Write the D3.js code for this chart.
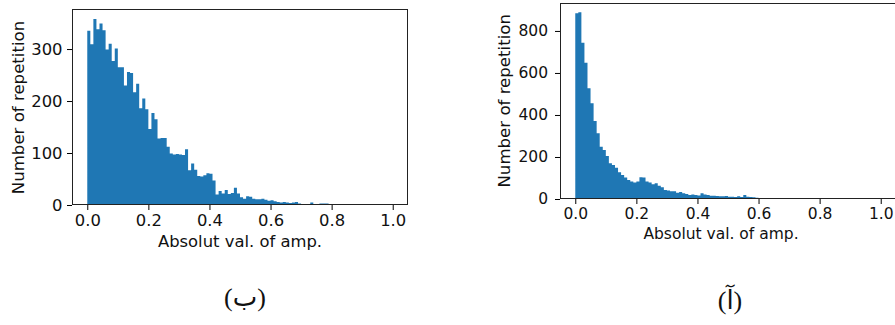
<!DOCTYPE html>
<html>
<head>
<meta charset="utf-8">
<script src="https://cdn.jsdelivr.net/npm/d3@7"></script>
<style>
  body { margin: 0; background: #fff; }
  svg { display: block; }
  .tick text { fill: #111; }
</style>
</head>
<body>
<div id="container"></div>
<script>
// histogram counts, 100 bins of width 0.01 from 0.0 to 1.0
const binWidth = 0.01;

// panel (ب) - left
const countsB = [
  335, 309, 358, 338, 349, 336, 299, 310, 277, 301,
  265, 265, 230, 256, 254, 217, 233, 186, 205, 184,
  146, 177, 165, 128, 129, 129, 112, 99, 97, 98,
  97, 96, 107, 67, 80, 68, 56, 55, 57, 61,
  60, 47, 20, 27, 22, 29, 21, 23, 33, 22,
  15, 12, 17, 16, 12, 11, 11, 12, 10, 8,
  9, 7, 6, 5, 6, 5, 4, 5, 6, 3,
  2, 2, 1, 5, 2, 1, 3, 3, 3, 2,
  1, 0, 0, 1, 0, 0, 1, 0, 1, 0,
  0, 1, 0, 0, 0, 1, 0, 0, 0, 1
];

// panel (آ) - right
const countsA = [
  884, 889, 744, 649, 527, 456, 371, 313, 249, 233,
  205, 170, 162, 149, 127, 114, 102, 90, 83, 79,
  83, 103, 102, 83, 78, 70, 75, 63, 56, 43,
  40, 37, 37, 30, 33, 27, 24, 19, 22, 19,
  17, 27, 22, 19, 16, 16, 14, 13, 13, 14,
  11, 11, 10, 13, 10, 19, 11, 9, 8, 6,
  5, 4, 4, 5, 3, 4, 3, 3, 4, 4,
  3, 2, 4, 3, 2, 3, 4, 2, 3, 3,
  2, 1, 2, 2, 1, 1, 3, 0, 0, 0,
  0, 0, 0, 0, 0, 0, 0, 0, 0, 0
];

const xTicks = [0, 0.2, 0.4, 0.6, 0.8, 1.0];
const yTicksB = [0, 100, 200, 300];
const yTicksA = [0, 200, 400, 600, 800];

const xLabel = 'Absolut val. of amp.';
const yLabel = 'Number of repetition';
const captionB = '(ب)';
const captionA = '(آ)';

const width = 895;
const height = 325;
const barColor = '#1f77b4';

const svg = d3.select('#container')
  .append('svg')
  .attr('width', width)
  .attr('height', height);

const panels = [
  {
    counts: countsB, yTicks: yTicksB, yMax: 377, caption: captionB,
    left: 72, top: 9, w: 336, h: 196, font: 16.4, yFont: 16.6,
    xPad: 4, yPad: 4.5, xLabelX: 240, xLabelY: 247, yLabelX: 24, yLabelY: 107.5,
    capX: 245, capY: 306
  },
  {
    counts: countsA, yTicks: yTicksA, yMax: 933, caption: captionA,
    left: 560, top: 3, w: 336, h: 196, font: 15.5, yFont: 16.6,
    xPad: 4, yPad: 7, xLabelX: 721, xLabelY: 239, yLabelX: 510, yLabelY: 100.8,
    capX: 730, capY: 309
  }
];

panels.forEach((p) => {
  const x = d3.scaleLinear().domain([-0.05, 1.05]).range([0, p.w]);
  const y = d3.scaleLinear().domain([0, p.yMax]).range([p.h, 0]);

  const g = svg.append('g').attr('transform', `translate(${p.left},${p.top})`);

  // bars as one stepped area, so there are no seams between bins
  const steps = p.counts.map((c, i) => [i * binWidth, c]);
  steps.push([p.counts.length * binWidth, p.counts[p.counts.length - 1]]);
  g.append('path')
    .datum(steps)
    .attr('fill', barColor)
    .attr('d', d3.area()
      .curve(d3.curveStepAfter)
      .x((d) => x(d[0]))
      .y0(y(0))
      .y1((d) => y(d[1])));

  // frame
  g.append('rect')
    .attr('x', 0.5)
    .attr('y', 0.5)
    .attr('width', p.w - 1)
    .attr('height', p.h - 1)
    .attr('fill', 'none')
    .attr('stroke', '#222')
    .attr('stroke-width', 1);

  // x axis
  const xa = g.append('g')
    .attr('transform', `translate(0,${p.h})`)
    .call(d3.axisBottom(x).tickValues(xTicks).tickFormat(d3.format('.1f'))
      .tickSize(5).tickSizeOuter(0).tickPadding(p.xPad));
  xa.select('.domain').remove();
  xa.selectAll('text').attr('font-family', 'DejaVu Sans').attr('font-size', p.font);

  // y axis
  const ya = g.append('g')
    .call(d3.axisLeft(y).tickValues(p.yTicks).tickFormat(d3.format('d'))
      .tickSize(5).tickSizeOuter(0).tickPadding(p.yPad));
  ya.select('.domain').remove();
  ya.selectAll('text').attr('font-family', 'DejaVu Sans').attr('font-size', p.font);

  // axis labels
  svg.append('text')
    .attr('x', p.xLabelX)
    .attr('y', p.xLabelY)
    .attr('text-anchor', 'middle')
    .attr('font-family', 'DejaVu Sans')
    .attr('font-size', p.font)
    .attr('fill', '#111')
    .text(xLabel);

  svg.append('text')
    .attr('transform', `translate(${p.yLabelX},${p.yLabelY}) rotate(-90)`)
    .attr('text-anchor', 'middle')
    .attr('font-family', 'DejaVu Sans')
    .attr('font-size', p.yFont)
    .attr('fill', '#111')
    .text(yLabel);

  // caption
  svg.append('text')
    .attr('x', p.capX)
    .attr('y', p.capY)
    .attr('text-anchor', 'middle')
    .attr('font-family', '"Liberation Serif", "DejaVu Sans"')
    .attr('font-size', 26)
    .attr('fill', '#111')
    .text(p.caption);
});
</script>
</body>
</html>
